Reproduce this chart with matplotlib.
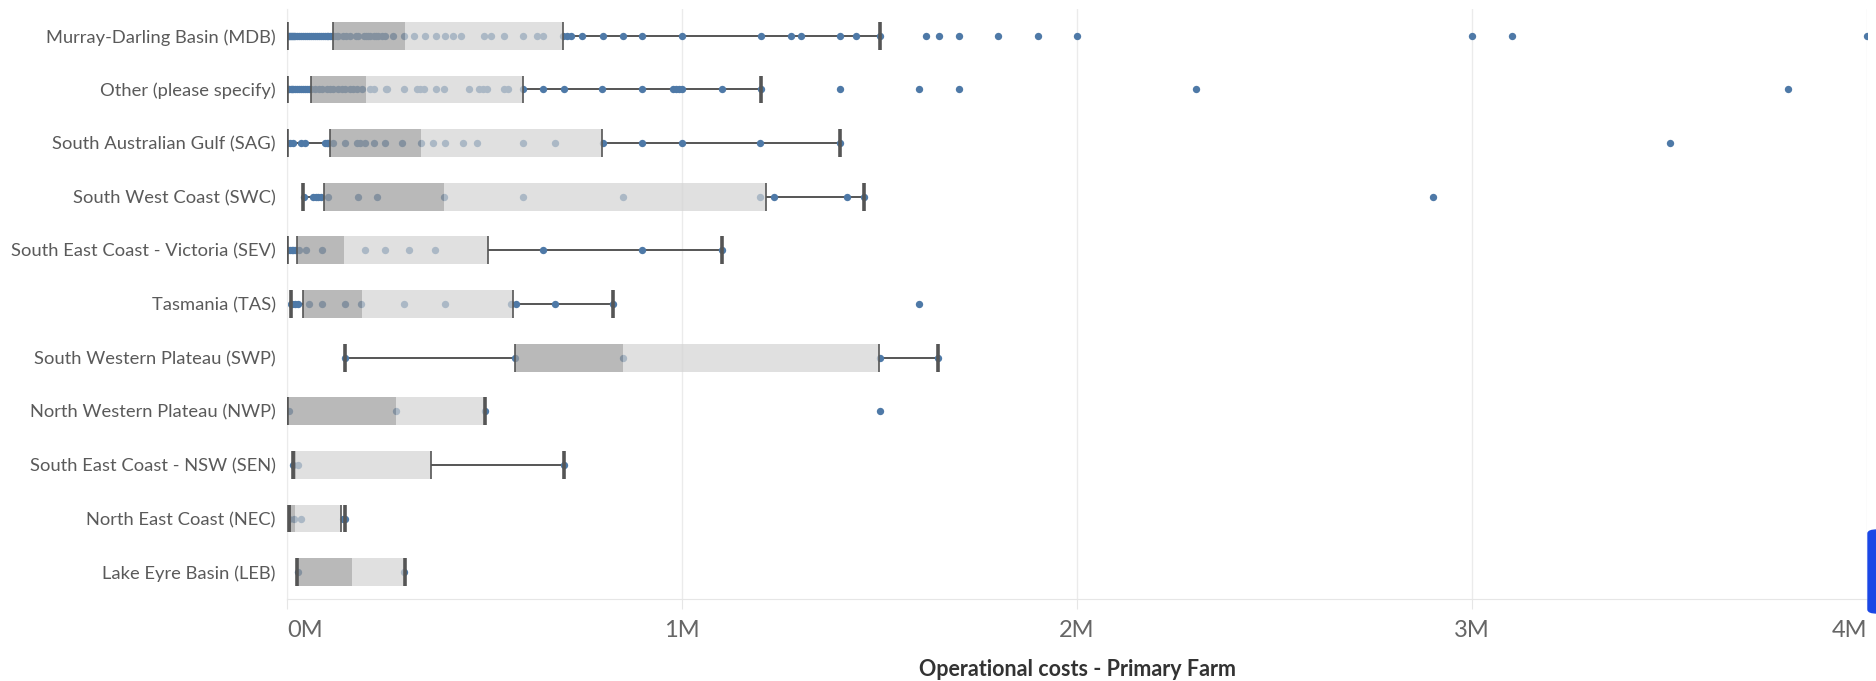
import matplotlib.pyplot as plt
import numpy as np
from matplotlib.patches import FancyBboxPatch
from matplotlib.ticker import FuncFormatter

plt.rcParams["font.family"] = ["Lato", "DejaVu Sans"]

regions = [
    "Murray-Darling Basin (MDB)",
    "Other (please specify)",
    "South Australian Gulf (SAG)",
    "South West Coast (SWC)",
    "South East Coast - Victoria (SEV)",
    "Tasmania (TAS)",
    "South Western Plateau (SWP)",
    "North Western Plateau (NWP)",
    "South East Coast - NSW (SEN)",
    "North East Coast (NEC)",
    "Lake Eyre Basin (LEB)",
]

# box stats in $M: lower whisker, Q1, median, Q3, upper whisker
whisker_lo = [0.0, 0.0, 0.0, 0.0414, 0.0, 0.009, 0.147, 0.0, 0.016, 0.006, 0.026]
q1 = [0.117, 0.062, 0.109, 0.0945, 0.026, 0.040, 0.577, 0.0, 0.018, 0.008, 0.026]
median = [0.299, 0.200, 0.338, 0.398, 0.145, 0.189, 0.850, 0.276, 0.022, 0.020, 0.164]
q3 = [0.698, 0.597, 0.797, 1.213, 0.510, 0.571, 1.499, 0.500, 0.364, 0.136, 0.298]
whisker_hi = [1.50, 1.20, 1.40, 1.461, 1.10, 0.826, 1.648, 0.500, 0.70, 0.148, 0.298]

# individual farms ($M)
mdb = [0, 0.002, 0.005, 0.008, 0.01, 0.012, 0.015, 0.018, 0.02, 0.025, 0.03, 0.035,
       0.04, 0.045, 0.05, 0.055, 0.06, 0.065, 0.07, 0.075, 0.08, 0.085, 0.09, 0.095,
       0.1, 0.105, 0.11, 0.115, 0.12, 0.126, 0.13, 0.143, 0.15, 0.16, 0.175, 0.18,
       0.195, 0.2, 0.206, 0.21, 0.219, 0.225, 0.231, 0.24, 0.248, 0.269, 0.296, 0.322,
       0.349, 0.377, 0.40, 0.419, 0.44, 0.499, 0.517, 0.549, 0.598, 0.634, 0.649,
       0.698, 0.709, 0.72, 0.748, 0.80, 0.85, 0.898, 1.0, 1.2, 1.276, 1.3, 1.4, 1.44,
       1.5, 1.617, 1.651, 1.7, 1.8, 1.9, 2.0, 3.0, 3.1, 4.0]
other = [0, 0.003, 0.006, 0.01, 0.013, 0.016, 0.02, 0.025, 0.03, 0.035, 0.04, 0.045,
         0.05, 0.055, 0.06, 0.071, 0.08, 0.088, 0.1, 0.11, 0.117, 0.13, 0.139, 0.147,
         0.16, 0.168, 0.176, 0.191, 0.21, 0.221, 0.25, 0.254, 0.296, 0.328, 0.337,
         0.347, 0.376, 0.398, 0.461, 0.486, 0.497, 0.507, 0.549, 0.559, 0.597, 0.649,
         0.70, 0.798, 0.898, 0.976, 0.986, 0.993, 1.0, 1.1, 1.2, 1.4, 1.6, 1.7, 2.3, 3.8]
sag = [0, 0.008, 0.016, 0.035, 0.046, 0.096, 0.1, 0.104, 0.117, 0.147, 0.178, 0.185,
       0.197, 0.22, 0.249, 0.29, 0.338, 0.37, 0.399, 0.446, 0.48, 0.598, 0.678, 0.8,
       0.898, 1.0, 1.198, 1.4, 3.5]
swc = [0.043, 0.067, 0.073, 0.079, 0.085, 0.103, 0.179, 0.227, 0.398, 0.598, 0.85,
       1.198, 1.232, 1.418, 1.461, 2.9]
sev = [0, 0.003, 0.007, 0.012, 0.016, 0.02, 0.03, 0.048, 0.088, 0.198, 0.249, 0.308,
       0.374, 0.649, 0.898, 1.1]
tas = [0.009, 0.012, 0.02, 0.029, 0.056, 0.088, 0.147, 0.187, 0.297, 0.399, 0.567,
       0.58, 0.678, 0.826, 1.6]
swp = [0.147, 0.577, 0.85, 1.5, 1.648]
nwp = [0.005, 0.276, 0.5, 1.5]
sen = [0.014, 0.029, 0.70]
nec = [0.006, 0.018, 0.035, 0.141, 0.147]
leb = [0.029, 0.297]
farms = [mdb, other, sag, swc, sev, tas, swp, nwp, sen, nec, leb]

x_ticks = [0, 1, 2, 3, 4]

DOT = "#4e79a7"
EDGE = "#555555"
half = 0.26

fig = plt.figure(figsize=(18.76, 6.81), dpi=100)
ax = fig.add_axes([287 / 1876, 1 - 599 / 681, 1580 / 1876, 590 / 681])

for i, vals in enumerate(farms):
    # dots under the box so the ones inside look faded
    ax.scatter(vals, np.full(len(vals), i), s=28, color=DOT, linewidths=0, zorder=2)
    ax.hlines(i, whisker_lo[i], q1[i], color=EDGE, lw=1.4, zorder=1)
    ax.hlines(i, q3[i], whisker_hi[i], color=EDGE, lw=1.4, zorder=1)
    ax.barh(i, median[i] - q1[i], left=q1[i], height=2 * half, color="#9c9c9c",
            alpha=0.7, linewidth=0, zorder=3)
    ax.barh(i, q3[i] - median[i], left=median[i], height=2 * half, color="#d3d3d3",
            alpha=0.7, linewidth=0, zorder=3)
    ax.vlines([q1[i], q3[i]], i - half, i + half, color=EDGE, lw=1.2, zorder=4)
    ax.vlines([whisker_lo[i], whisker_hi[i]], i - half, i + half, color=EDGE, lw=2.6, zorder=4)

ax.set_xlim(0, 4)
ax.set_ylim(len(regions) - 0.5, -0.5)
ax.set_yticks(range(len(regions)))
ax.set_yticklabels(regions, fontsize=13.2, color="#5a5a5a")
ax.tick_params(axis="y", length=0, pad=8)

ax.set_xticks(x_ticks)
ax.xaxis.set_major_formatter(FuncFormatter(lambda v, _: f"{v:.0f}M"))
ax.tick_params(axis="x", length=7, color="#e6e6e6", labelsize=17, labelcolor="#666666", pad=8)
labels = ax.get_xticklabels()
labels[0].set_horizontalalignment("left")
labels[-1].set_horizontalalignment("right")

ax.grid(axis="x", color="#ebebeb", lw=1)
ax.set_axisbelow(True)
for side in ["top", "right"]:
    ax.spines[side].set_visible(False)
ax.spines["bottom"].set_color("#e6e6e6")
ax.spines["left"].set_color("#ebebeb")

ax.set_xlabel("Operational costs - Primary Farm", fontsize=15.5, fontweight="bold",
              color="#333333", labelpad=13)

# the blue handle at the right edge
fig.patches.append(FancyBboxPatch((1868 / 1876, 1 - 613 / 681), 20 / 1876, 83 / 681,
                                  boxstyle="round,pad=0,rounding_size=0.005",
                                  transform=fig.transFigure, color="#1a47e6", zorder=10))

fig.savefig("out.png", dpi=100)
